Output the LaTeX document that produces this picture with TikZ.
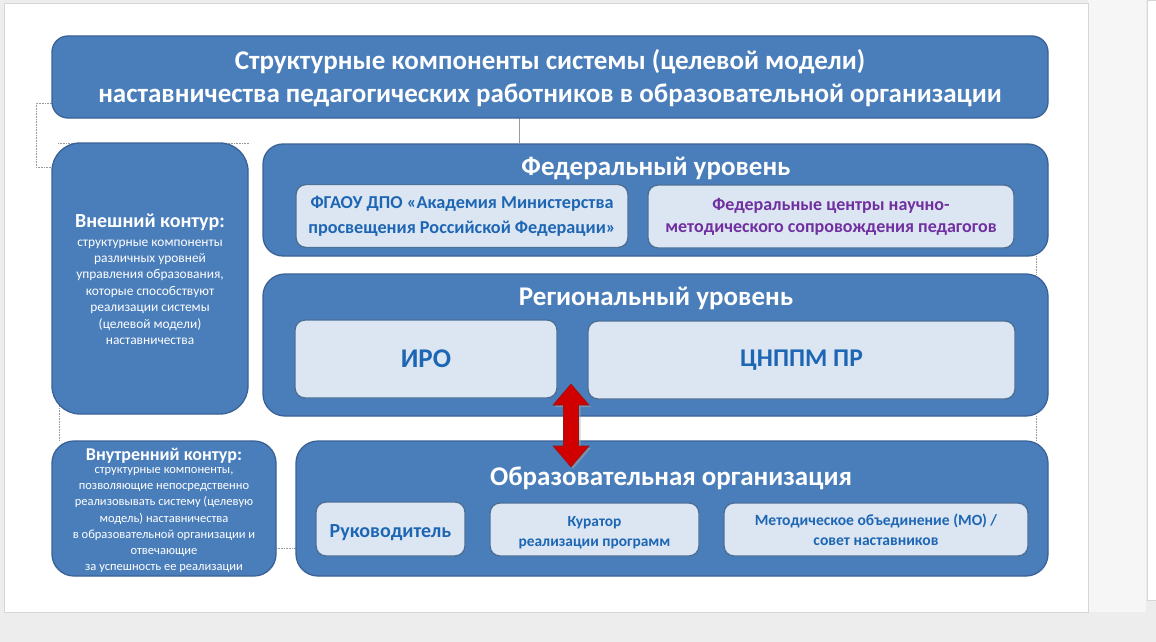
\documentclass[tikz,border=0pt]{standalone}
\usepackage{fontspec}
\setmainfont{Carlito}
\definecolor{screenbg}{HTML}{EDEDED}
\definecolor{sidebg}{HTML}{F6F6F6}
\definecolor{pageedge}{HTML}{D6D6D6}
\definecolor{boxblue}{HTML}{4A7EBB}
\definecolor{boxdraw}{HTML}{3A6296}
\definecolor{innerfill}{HTML}{DCE6F2}
\definecolor{innerdraw}{HTML}{4C6F98}
\definecolor{txtblue}{HTML}{1D66B4}
\definecolor{txtpurple}{HTML}{7030A0}
\definecolor{arrowred}{HTML}{D00000}
\definecolor{arrowdraw}{HTML}{8E1A1A}
\definecolor{dotgray}{HTML}{9A9A9A}
\begin{document}
\begin{tikzpicture}[x=1pt,y=-1pt,
  bigbox/.style={draw=boxdraw, line width=1.3pt, fill=boxblue, rounded corners=#1, inner sep=0pt},
  innerbox/.style={draw=innerdraw, line width=1.4pt, fill=innerfill, rounded corners=10pt, inner sep=0pt, align=center},
  headtxt/.style={text=white, font=\fontsize{27}{33}\selectfont\bfseries, align=center, inner sep=0pt},
  bodytxt/.style={text=white, align=center, inner sep=0pt},
  conn/.style={draw=dotgray, line width=0.6pt, densely dotted}]
\useasboundingbox (0,0) rectangle (1156,642);
% screen and page
\fill[screenbg] (0,0) rectangle (1156,642);
\fill[sidebg] (1088,0) rectangle (1146,612);
\fill[white,draw=pageedge,line width=0.8pt] (4,3) rectangle (1088,612);
\fill[white,draw=pageedge,line width=0.6pt] (1147,0) rectangle (1156,600);
% faint connectors
\coordinate (d1) at (52,103); \coordinate (d2) at (36,103);
\coordinate (d3) at (36,167); \coordinate (d4) at (52,167);
\draw[conn] (d1) -- (d2) -- (d3) -- (d4);
\coordinate (d5) at (58,143); \coordinate (d6) at (250,143);
\draw[conn] (d5) -- (d6);
\coordinate (d7) at (519,118); \coordinate (d8) at (519,143);
\draw[conn, solid, line width=0.5pt] (d7) -- (d8);
\coordinate (d9) at (59,400); \coordinate (d10) at (59,441);
\draw[conn] (d9) -- (d10);
\coordinate (d11) at (276,548); \coordinate (d12) at (296,548);
\draw[conn] (d11) -- (d12);
\coordinate (d13) at (1036,256); \coordinate (d14) at (1036,274);
\draw[conn] (d13) -- (d14);
\coordinate (d15) at (1036,416); \coordinate (d16) at (1036,441);
\draw[conn] (d15) -- (d16);
% title
\node[bigbox=16pt, minimum width=996pt, minimum height=82pt] (title) at (550,77) {};
\node[headtxt] (titletxt) at (550,78.5) {Структурные компоненты системы (целевой модели)\\наставничества педагогических работников в образовательной организации};
% outer contour
\node[bigbox=28pt, minimum width=196pt, minimum height=271pt] (outer) at (150,278.5) {};
\node[bodytxt, font=\fontsize{20}{22}\selectfont\bfseries] (outerhead) at (150,222) {Внешний контур:};
\node[bodytxt, font=\fontsize{13.4}{16.4}\selectfont] (outerbody) at (150,292) {структурные компоненты\\различных уровней\\управления образования,\\которые способствуют\\реализации системы\\(целевой модели)\\наставничества};
% federal
\node[bigbox=20pt, minimum width=785pt, minimum height=112pt] (fed) at (655.5,200) {};
\node[headtxt] (fedhead) at (656,168) {Федеральный уровень};
\node[innerbox, minimum width=332pt, minimum height=63pt, text=txtblue, font=\fontsize{18.2}{25}\selectfont\bfseries] (fgaou) at (462,216) {ФГАОУ ДПО «Академия Министерства\\просвещения Российской Федерации»};
\node[innerbox, minimum width=366pt, minimum height=63pt, text=txtpurple, font=\fontsize{18}{22}\selectfont\bfseries] (fedc) at (831,216.5) {Федеральные центры научно-\\методического сопровождения педагогов};
% regional
\node[bigbox=22pt, minimum width=785pt, minimum height=142pt] (reg) at (655.5,345) {};
\node[headtxt] (reghead) at (656,298) {Региональный уровень};
\node[innerbox, minimum width=262pt, minimum height=78pt, text=txtblue, font=\fontsize{27}{30}\selectfont\bfseries] (iro) at (426,359) {ИРО};
\node[innerbox, minimum width=427pt, minimum height=78pt, text=txtblue, font=\fontsize{25.5}{30}\selectfont\bfseries] (cnppm) at (801.5,360) {ЦНППМ ПР};
% inner contour
\node[bigbox=22pt, minimum width=224pt, minimum height=135pt] (inner) at (164,508.5) {};
\node[bodytxt, font=\fontsize{18}{20}\selectfont\bfseries] (innerhead) at (164,456) {Внутренний контур:};
\node[bodytxt, font=\fontsize{12.5}{16.2}\selectfont] (innerbody) at (164,520) {структурные компоненты,\\позволяющие непосредственно\\реализовывать систему (целевую\\модель) наставничества\\в образовательной организации и\\отвечающие\\за успешность ее реализации};
% educational organisation
\node[bigbox=22pt, minimum width=752pt, minimum height=135pt] (edu) at (672,508.5) {};
\node[headtxt] (eduhead) at (671,478) {Образовательная организация};
\node[innerbox, minimum width=149pt, minimum height=54pt, text=txtblue, font=\fontsize{20}{24}\selectfont\bfseries] (ruk) at (390.5,529) {\rule{0pt}{20pt}Руководитель};
\node[innerbox, minimum width=209pt, minimum height=53pt, text=txtblue, font=\fontsize{15.4}{20}\selectfont\bfseries] (kur) at (594.5,529.5) {\rule{0pt}{17pt}Куратор\\реализации программ};
\node[innerbox, minimum width=304pt, minimum height=53pt, text=txtblue, font=\fontsize{15.6}{20}\selectfont\bfseries] (mo) at (876,529.5) {Методическое объединение (МО) /\\совет наставников};
% red double arrow between regional and educational levels
\coordinate (atop) at (571,384);
\coordinate (abot) at (571,467);
\fill[black!35, opacity=0.5] ([shift={(2,2)}]atop) -- ++(18,21) -- ++(-10.5,0) -- ++(0,41) -- ++(10.5,0) -- ([shift={(2,2)}]abot) -- ++(-18,-21) -- ++(10.5,0) -- ++(0,-41) -- ++(-10.5,0) -- cycle;
\filldraw[fill=arrowred, draw=arrowdraw, line width=0.6pt] (atop) -- ++(18,21) -- ++(-10.5,0) -- ++(0,41) -- ++(10.5,0) -- (abot) -- ++(-18,-21) -- ++(10.5,0) -- ++(0,-41) -- ++(-10.5,0) -- cycle;
\end{tikzpicture}
\end{document}
